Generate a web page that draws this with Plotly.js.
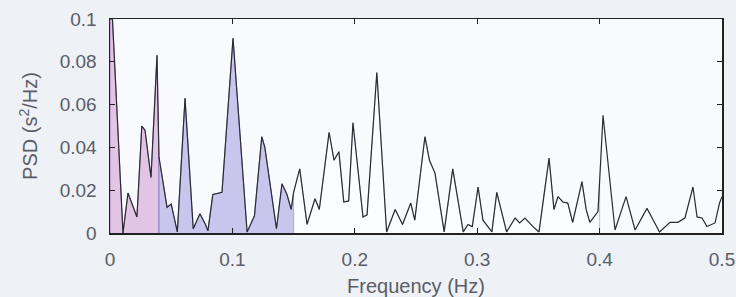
<!DOCTYPE html>
<html>
<head>
<meta charset="utf-8">
<script src="https://cdn.plot.ly/plotly-3.0.1.min.js"></script>
<style>html,body{margin:0;padding:0;background:#eef1f6;}#chart{width:736px;height:297px;}</style>
</head>
<body>
<div id="chart"></div>
<script>
const freq = [0, 0.002, 0.0106, 0.0147, 0.022, 0.026, 0.0286, 0.0335, 0.0384, 0.04,
  0.0466, 0.05, 0.055, 0.0613, 0.068, 0.0735, 0.078, 0.08, 0.084, 0.0915,
  0.1005, 0.112, 0.118, 0.124, 0.1265, 0.136, 0.1405, 0.1446, 0.148, 0.15,
  0.155, 0.161, 0.1675, 0.171, 0.179, 0.183, 0.187, 0.191, 0.195, 0.1985,
  0.2067, 0.21, 0.218, 0.226, 0.233, 0.239, 0.2457, 0.249, 0.2573, 0.261,
  0.2655, 0.273, 0.280, 0.2886, 0.2925, 0.296, 0.3007, 0.3047, 0.312, 0.316,
  0.324, 0.331, 0.3347, 0.339, 0.3456, 0.3505, 0.3587, 0.3627, 0.366, 0.370,
  0.374, 0.378, 0.3856, 0.389, 0.392, 0.3987, 0.4, 0.4028, 0.4126, 0.4216,
  0.429, 0.4387, 0.449, 0.4575, 0.464, 0.4697, 0.4763, 0.4796, 0.4837, 0.4877,
  0.4943, 0.498, 0.5];
const psd = [0.1, 0.1, 0.0, 0.0187, 0.0075, 0.050, 0.048, 0.026, 0.083, 0.0355,
  0.012, 0.0135, 0.0005, 0.063, 0.002, 0.009, 0.004, 0.001, 0.018, 0.019,
  0.091, 0.0005, 0.008, 0.045, 0.040, 0.002, 0.023, 0.018, 0.011, 0.019,
  0.030, 0.004, 0.016, 0.011, 0.047, 0.034, 0.038, 0.0145, 0.015, 0.0515,
  0.0075, 0.0085, 0.075, 0.0005, 0.011, 0.004, 0.014, 0.006, 0.045, 0.034,
  0.028, 0.0005, 0.030, 0.0005, 0.004, 0.003, 0.0215, 0.006, 0.0005, 0.019,
  0.0005, 0.007, 0.0047, 0.007, 0.003, 0.0005, 0.035, 0.011, 0.017, 0.0145,
  0.014, 0.005, 0.024, 0.011, 0.005, 0.010, 0.024, 0.055, 0.0014, 0.017,
  0.0014, 0.0115, 0.0005, 0.005, 0.005, 0.007, 0.0215, 0.0075, 0.007, 0.003,
  0.0047, 0.014, 0.017];
const bandNames = ['VLF', 'LF', 'HF'];
const bandEdges = [0, 0.04, 0.15, 0.4];
const bandFill = ['rgba(226,196,228,1)', 'rgba(200,198,236,1)', 'rgba(251,252,255,1)'];
const bandEdge = ['rgba(150,110,160,0.8)', 'rgba(120,115,180,0.8)', 'rgba(170,170,185,0.7)'];
const xTicks = [0, 0.1, 0.2, 0.3, 0.4, 0.5];
const yTicks = [0, 0.02, 0.04, 0.06, 0.08, 0.1];

const traces = [];
bandNames.forEach((name, i) => {
  const lo = bandEdges[i], hi = bandEdges[i + 1];
  const xs = [lo], ys = [0];
  freq.forEach((f, k) => { if (f >= lo && f <= hi) { xs.push(f); ys.push(psd[k]); } });
  xs.push(hi); ys.push(0);
  traces.push({x: xs, y: ys, name: name, mode: 'lines', fill: 'toself',
    fillcolor: bandFill[i], line: {color: bandEdge[i], width: 1}, hoverinfo: 'skip'});
});
traces.push({x: freq, y: psd, mode: 'lines', name: 'PSD', line: {color: '#2b2b33', width: 1.2}});

const font = {family: 'Liberation Sans, Arial, sans-serif', size: 19, color: '#5a5d66'};
const tfont = {family: 'Liberation Sans, Arial, sans-serif', size: 20, color: '#5a5d66'};
const layout = {
  width: 736, height: 297,
  margin: {l: 110, r: 14, t: 19, b: 64},
  paper_bgcolor: '#eef1f6', plot_bgcolor: '#f8fafd',
  showlegend: false, font: font,
  xaxis: {range: [0, 0.5], tickvals: xTicks, ticktext: xTicks.map(String),
    ticks: 'inside', ticklen: 5, tickcolor: '#222', showgrid: false, zeroline: false,
    showline: true, linecolor: '#222', linewidth: 1.5, mirror: 'ticks', ticklabelstandoff: 9,
    title: {text: 'Frequency (Hz)', font: tfont, standoff: 9}},
  yaxis: {range: [0, 0.1], tickvals: yTicks, ticktext: yTicks.map(String),
    ticks: 'inside', ticklen: 5, tickcolor: '#222', showgrid: false, zeroline: false,
    showline: true, linecolor: '#222', linewidth: 1.5, mirror: 'ticks', ticklabelstandoff: 8,
    title: {text: 'PSD (s<sup>2</sup>/Hz)', font: tfont, standoff: 16}}
};
Plotly.newPlot('chart', traces, layout, {staticPlot: true, displayModeBar: false});
</script>
</body>
</html>
